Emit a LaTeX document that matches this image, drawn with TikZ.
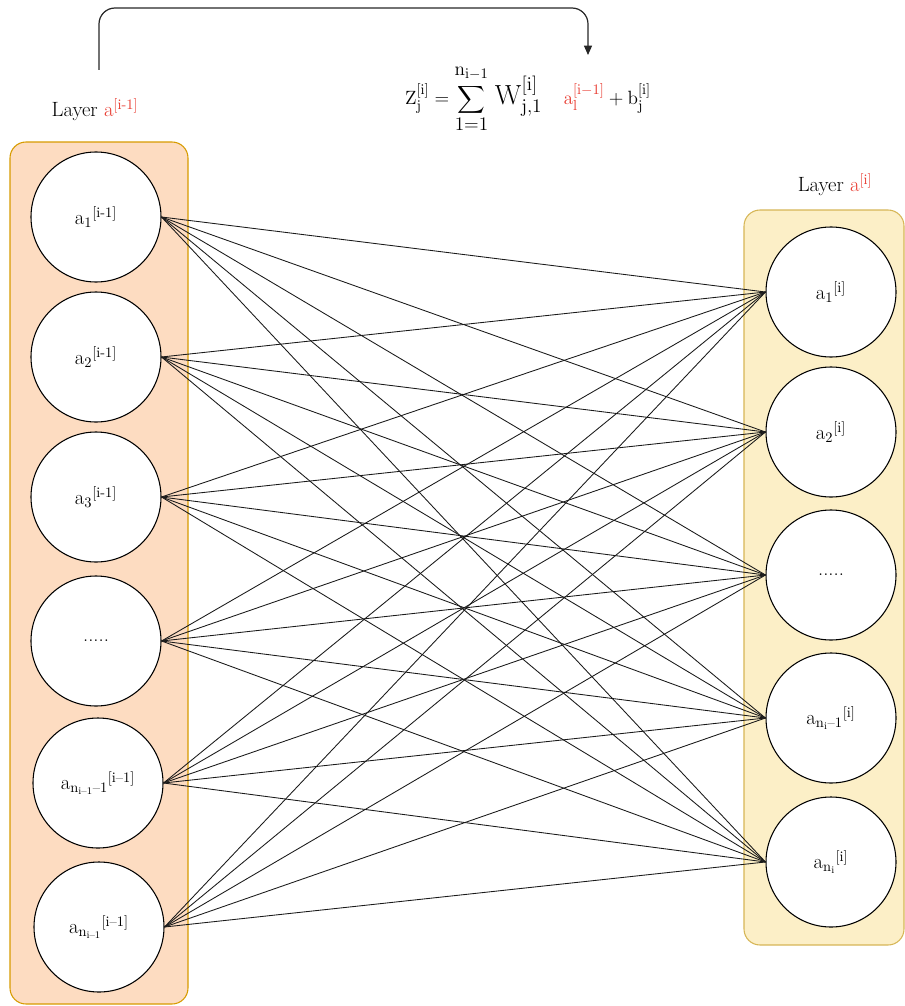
\documentclass[tikz,border=0pt]{standalone}
\usepackage{amsmath}
\usetikzlibrary{arrows.meta}
\definecolor{leftfill}{HTML}{FDDCC1}
\definecolor{leftdraw}{HTML}{D79B00}
\definecolor{rightfill}{HTML}{FCEFC7}
\definecolor{rightdraw}{HTML}{D6B656}
\definecolor{redlabel}{HTML}{E8392E}
\definecolor{linecol}{HTML}{1A1A1A}
\begin{document}
\begin{tikzpicture}[x=0.75pt,y=-0.75pt,
  neuron/.style={circle,draw=black,line width=0.8pt,fill=white,minimum size=97.5pt,inner sep=0pt,font=\fontsize{15.5}{18}\selectfont},
  layerbox/.style={rounded corners=12pt,line width=0.8pt},
  link/.style={draw=linecol,line width=0.65pt},
  lbl/.style={font=\fontsize{15.5}{18}\selectfont,inner sep=0pt}]
\useasboundingbox (0,0) rectangle (905,1006);
% containers
\draw[layerbox,fill=leftfill,draw=leftdraw] (10,142) rectangle (188,1004);
\draw[layerbox,fill=rightfill,draw=rightdraw] (744,210) rectangle (904,945);
% labels
\node[lbl] (lab1) at (95,110) {Layer \textcolor{redlabel}{a\textsuperscript{[i-1]}}};
\node[lbl] (lab2) at (835,185) {Layer \textcolor{redlabel}{a\textsuperscript{[i]}}};
% left neurons
\node[neuron] (L1) at (96,217) {a\textsubscript{1}\textsuperscript{[i-1]}};
\node[neuron] (L2) at (96,357) {a\textsubscript{2}\textsuperscript{[i-1]}};
\node[neuron] (L3) at (96,497) {a\textsubscript{3}\textsuperscript{[i-1]}};
\node[neuron] (L4) at (96,641) {.....};
\node[neuron] (L5) at (98,783) {a\textsubscript{n\textsubscript{i--1}--1}\textsuperscript{[i--1]}};
\node[neuron] (L6) at (99,927) {a\textsubscript{n\textsubscript{i--1}}\textsuperscript{[i--1]}};
% right neurons
\node[neuron] (R1) at (831,292) {a\textsubscript{1}\textsuperscript{[i]}};
\node[neuron] (R2) at (831,432) {a\textsubscript{2}\textsuperscript{[i]}};
\node[neuron] (R3) at (831,575) {.....};
\node[neuron] (R4) at (831,718) {a\textsubscript{n\textsubscript{i}--1}\textsuperscript{[i]}};
\node[neuron] (R5) at (831,862) {a\textsubscript{n\textsubscript{i}}\textsuperscript{[i]}};
% connections
\foreach \l in {1,...,6}{
  \foreach \r in {1,...,5}{
    \draw[link] (L\l.east) -- (R\r.west);
  }
}
% formula
\node[inner sep=0pt,font=\fontsize{15.5}{18}\selectfont] (formula) at (528,99)
  {$\mathrm{Z}^{[\mathrm{i}]}_{\mathrm{j}} = \displaystyle\sum_{\textstyle\mathrm{1{=}1}}^{\raisebox{3.5pt}{$\textstyle\mathrm{n_{i-1}}$}}\,\text{\fontsize{22}{25}\selectfont$\mathrm{W}^{[\mathrm{i}]}_{\mathrm{j,1}}$}\;\;\;\; {\color{redlabel}\mathrm{a}^{[\mathrm{i-1}]}_{\mathrm{l}}} + \mathrm{b}^{[\mathrm{i}]}_{\mathrm{j}}$};
% arrow
\coordinate (start) at (99,70);
\coordinate (target) at (588,55);
\draw[line width=0.9pt,draw=black!85,rounded corners=12pt,-{Triangle[length=7pt,width=6pt]}]
  (start) -- (99,8) -- (588,8) -- (target);
\end{tikzpicture}
\end{document}
